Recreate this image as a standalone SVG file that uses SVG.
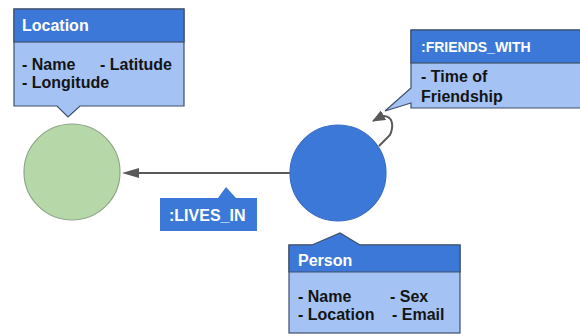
<svg xmlns="http://www.w3.org/2000/svg" width="580" height="336" viewBox="0 0 580 336">
<defs>
<style>
.callout{fill:#a4c2f4;stroke:#3e4f6b;stroke-width:1.2}
.hdr{fill:#3c78d8;stroke:#3e4f6b;stroke-width:1.2}
.ht{font-family:"Liberation Sans",Arial,sans-serif;font-weight:bold;font-size:16px;fill:#ffffff}
.bt{font-family:"Liberation Sans",Arial,sans-serif;font-weight:bold;font-size:16px;fill:#141414}
.edge{fill:none;stroke:#595959;stroke-width:2}
</style>
<marker id="ah" markerWidth="13" markerHeight="11" refX="12" refY="5.5" orient="auto" markerUnits="userSpaceOnUse" viewBox="0 0 13 11">
<path d="M0,0 L13,5.5 L0,11 Z" fill="#595959"/>
</marker>
</defs>
<rect width="580" height="336" fill="#ffffff"/>
<g id="connectors">
<line class="edge" x1="290" y1="173" x2="136" y2="173"/>
<polygon points="122,173 139,168 139,178" fill="#595959"/>
<path class="edge" d="M379 146 L390 135 C394 126 393 115 382 116 L373 121" marker-end="url(#ah)"/>
</g>
<g id="location-node">
<circle cx="72" cy="172" r="48" fill="#b6d7a8" stroke="#8fa58a" stroke-width="1.2"/>
</g>
<g id="person-node">
<circle cx="338" cy="173" r="48" fill="#3c78d8" stroke="#3a6cc4" stroke-width="1.2"/>
</g>
<g id="location-label">
<path class="callout" d="M14 9 H184 V106 H80 L68 117 L57 106 H14 Z"/>
<rect class="hdr" x="14" y="9" width="170" height="33"/>
<text class="ht" x="22" y="31">Location</text>
<text class="bt" x="22" y="70">- Name</text>
<text class="bt" x="100" y="70">- Latitude</text>
<text class="bt" x="22" y="88">- Longitude</text>
</g>
<g id="friends-label">
<path class="callout" d="M411 30 H584 V108 H411 V103 L385 111 L411 88 Z"/>
<rect class="hdr" x="411" y="30" width="173" height="33"/>
<text class="ht" x="421" y="52" style="font-size:14px">:FRIENDS_WITH</text>
<text class="bt" x="421" y="82">- Time of</text>
<text class="bt" x="421" y="102">Friendship</text>
</g>
<g id="lives-in-label">
<path d="M160 198 H218 L226 187 L236 198 H257 V231 H160 Z" fill="#3c78d8"/>
<text class="ht" x="169" y="221">:LIVES_IN</text>
</g>
<g id="person-label">
<rect class="callout" x="289" y="245" width="171" height="88"/>
<path class="hdr" d="M289 245 H312 L340 233 L360 245 H460 V272 H289 Z"/>
<text class="ht" x="298" y="266">Person</text>
<text class="bt" x="298" y="302">- Name</text>
<text class="bt" x="390" y="302">- Sex</text>
<text class="bt" x="298" y="320">- Location</text>
<text class="bt" x="392" y="320">- Email</text>
</g>
</svg>
